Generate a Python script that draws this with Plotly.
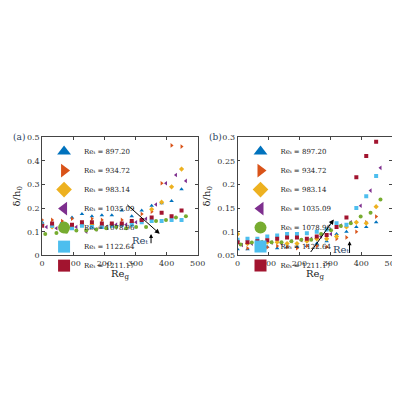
import plotly.graph_objects as go

# Re_t values and marker styles (MATLAB-ish palette)
re_t = ["897.20", "934.72", "983.14", "1035.09", "1078.96", "1122.64", "1211.17"]
colors = ["#0072BD", "#D95319", "#EDB120", "#7E2F8E", "#77AC30", "#4DBEEE", "#A2142F"]
symbols = ["triangle-up", "triangle-right", "diamond", "triangle-left", "circle", "square", "square"]

x_a = [0, 32, 64, 96, 128, 160, 192, 224, 256, 288, 320, 352, 384, 416, 448]
x_b = [14, 46, 78, 110, 142, 174, 206, 238, 270, 302, 334, 366, 398, 430, 462]
x_g = [10, 46, 78, 110, 142, 174, 206, 238, 270, 302, 334, 366, 398, 430, 462]
xs = [x_a, x_a, x_a, x_b, x_g, x_a, x_a]

# panel (a)
a_vals = [
    [0.14, 0.13, 0.14, 0.16, 0.175, 0.165, 0.17, 0.17, 0.19, 0.165, 0.19, 0.21, 0.22, 0.23, 0.28],
    [0.15, 0.15, 0.145, 0.155, 0.13, 0.155, 0.15, 0.13, 0.15, 0.14, 0.175, 0.185, 0.305, 0.465, 0.46],
    [0.13, 0.12, 0.13, 0.12, 0.13, 0.13, 0.125, 0.13, 0.13, 0.14, 0.15, 0.195, 0.225, 0.29, 0.365],
    [0.12, 0.115, 0.12, 0.12, 0.1, 0.11, 0.12, 0.13, 0.13, 0.14, 0.155, 0.215, 0.305, 0.34, 0.315],
    [0.09, 0.095, 0.1, 0.105, 0.105, 0.11, 0.115, 0.12, 0.115, 0.12, 0.12, 0.145, 0.15, 0.16, 0.165],
    [0.13, 0.125, 0.115, 0.115, 0.125, 0.12, 0.12, 0.125, 0.13, 0.13, 0.14, 0.145, 0.145, 0.15, 0.15],
    [0.125, 0.135, 0.125, 0.13, 0.14, 0.14, 0.135, 0.135, 0.135, 0.145, 0.15, 0.16, 0.18, 0.165, 0.19],
]
# panel (b)
b_vals = [
    [0.063, 0.063, 0.063, 0.068, 0.065, 0.068, 0.068, 0.07, 0.075, 0.08, 0.095, 0.1, 0.11, 0.11, 0.12],
    [0.08, 0.065, 0.068, 0.067, 0.07, 0.068, 0.065, 0.07, 0.07, 0.068, 0.085, 0.088, 0.1, 0.12, 0.132],
    [0.095, 0.075, 0.078, 0.078, 0.078, 0.075, 0.075, 0.08, 0.085, 0.085, 0.09, 0.11, 0.12, 0.118, 0.153],
    [0.072, 0.075, 0.078, 0.077, 0.075, 0.08, 0.082, 0.085, 0.09, 0.095, 0.113, 0.12, 0.155, 0.187, 0.235],
    [0.073, 0.077, 0.078, 0.078, 0.078, 0.08, 0.083, 0.083, 0.095, 0.103, 0.112, 0.118, 0.132, 0.14, 0.168],
    [0.083, 0.085, 0.085, 0.09, 0.092, 0.095, 0.095, 0.097, 0.1, 0.105, 0.118, 0.115, 0.15, 0.175, 0.218],
    [0.078, 0.078, 0.08, 0.082, 0.085, 0.088, 0.088, 0.085, 0.09, 0.093, 0.11, 0.13, 0.215, 0.26, 0.29],
]

serif = "DejaVu Serif"
fig = go.Figure()
for i in range(7):
    name = "Reₜ = " + re_t[i]
    mk = dict(symbol=symbols[i], color=colors[i], size=4)
    fig.add_trace(go.Scatter(x=xs[i], y=a_vals[i], mode="markers", marker=mk, name=name,
                             xaxis="x", yaxis="y", legend="legend"))
    fig.add_trace(go.Scatter(x=xs[i], y=b_vals[i], mode="markers", marker=mk, name=name,
                             xaxis="x2", yaxis="y2", legend="legend2"))

ax = dict(showline=True, mirror="ticks", linecolor="#444", linewidth=0.8, ticks="inside",
          ticklen=3, showgrid=False, zeroline=False, tickfont=dict(family=serif, size=8, color="#333"))
leg = dict(font=dict(family=serif, size=7, color="#222"), bgcolor="rgba(0,0,0,0)",
           tracegroupgap=0, itemwidth=30, xanchor="left", yanchor="top", itemsizing="constant")
tfont = dict(family=serif, size=10, color="#222")

fig.update_layout(
    width=400, height=400, margin=dict(l=0, r=0, t=0, b=0),
    paper_bgcolor="white", plot_bgcolor="white",
    xaxis=dict(ax, domain=[0.08, 0.48], range=[0, 500], dtick=100, anchor="y",
               title=dict(text="Re<sub>g</sub>", font=tfont, standoff=2)),
    yaxis=dict(ax, domain=[0.3775, 0.68], range=[0, 0.5], dtick=0.1, anchor="x",
               title=dict(text="δ/h<sub>0</sub>", font=tfont, standoff=4)),
    xaxis2=dict(ax, domain=[0.5825, 0.98], range=[0, 500], dtick=100, anchor="y2",
                title=dict(text="Re<sub>g</sub>", font=tfont, standoff=2)),
    yaxis2=dict(ax, domain=[0.3775, 0.68], range=[0.05, 0.3], dtick=0.05, anchor="x2",
                title=dict(text="δ/h<sub>0</sub>", font=tfont, standoff=4)),
    legend=dict(leg, x=0.085, y=0.68),
    legend2=dict(leg, x=0.59, y=0.68),
    showlegend=True,
)

ann = [
    dict(xref="paper", yref="paper", x=0.0, y=0.68, text="(a)", showarrow=False,
         xanchor="left", yanchor="middle", font=dict(family=serif, size=9)),
    dict(xref="paper", yref="paper", x=0.505, y=0.68, text="(b)", showarrow=False,
         xanchor="left", yanchor="middle", font=dict(family=serif, size=9)),
    # panel a arrow
    dict(xref="x", yref="y", x=378, y=0.091, ax=269, ay=0.219, axref="x", ayref="y",
         showarrow=True, arrowhead=2, arrowsize=1, arrowwidth=1, arrowcolor="black", text=""),
    dict(xref="x", yref="y", x=315, y=0.065, text="Reₜ", showarrow=False,
         font=dict(family=serif, size=10)),
    dict(xref="x", yref="y", x=350, y=0.09, ax=350, ay=0.045, axref="x", ayref="y",
         showarrow=True, arrowhead=2, arrowsize=0.8, arrowwidth=1, arrowcolor="black", text=""),
    # panel b arrow
    dict(xref="x2", yref="y2", x=311, y=0.126, ax=233, ay=0.054, axref="x2", ayref="y2",
         showarrow=True, arrowhead=2, arrowsize=1, arrowwidth=1, arrowcolor="black", text=""),
    dict(xref="x2", yref="y2", x=333, y=0.063, text="Reₜ", showarrow=False,
         font=dict(family=serif, size=10)),
    dict(xref="x2", yref="y2", x=362, y=0.08, ax=362, ay=0.052, axref="x2", ayref="y2",
         showarrow=True, arrowhead=2, arrowsize=0.8, arrowwidth=1, arrowcolor="black", text=""),
]
fig.update_layout(annotations=ann)

fig.write_html("out.html")
